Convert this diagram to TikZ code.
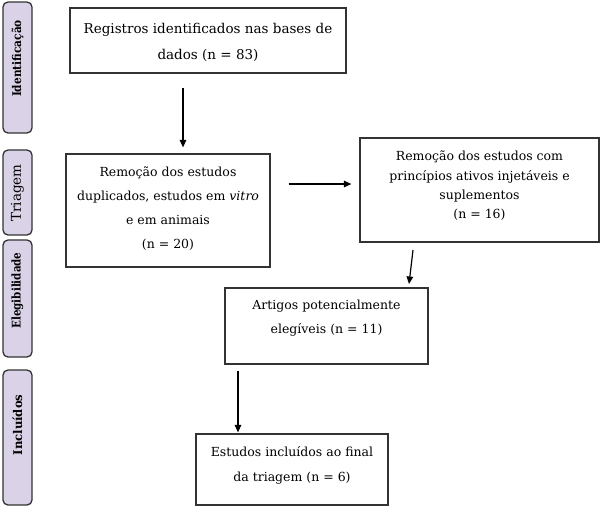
\documentclass[tikz,border=0pt]{standalone}
\usepackage{fontspec}
\usepackage{graphicx}
\setmainfont{DejaVu Serif}
\usetikzlibrary{arrows.meta,calc}
\definecolor{lav}{HTML}{DAD3E8}
\definecolor{edge}{HTML}{333333}
\newcommand{\stg}[2]{\scalebox{#1}[1]{#2}}
\begin{document}
\begin{tikzpicture}[x=1pt,y=-1pt,
  stage/.style={draw=edge,line width=1.3pt,fill=lav,rounded corners=5pt,inner sep=0pt},
  stagetxt/.style={rotate=90,font=\fontsize{12}{13}\selectfont\bfseries,inner sep=0pt},
  box/.style={draw=edge,line width=1.2pt,inner sep=0pt},
  txt/.style={align=center,inner sep=0pt},
  arr/.style={-{Triangle[length=7.5pt,width=6.5pt]},line width=1.2pt,black}]
\useasboundingbox (0,0) rectangle (600,507);
\fill[white] (0,0) rectangle (600,507);
% stages
\node[stage,minimum width=29pt,minimum height=131pt] (s1) at (17.5,67.5) {};
\node[stagetxt] (t1) at (17.5,58.5) {\stg{0.88}{Identificação}};
\node[stage,minimum width=29pt,minimum height=85pt] (s2) at (17.5,192.5) {};
\node[stagetxt,font=\fontsize{13.5}{14}\selectfont] (t2) at (17.5,193) {Triagem};
\node[stage,minimum width=29pt,minimum height=117pt] (s3) at (17.5,298.5) {};
\node[stagetxt] (t3) at (17.5,290.5) {\stg{0.86}{Elegibilidade}};
\node[stage,minimum width=29pt,minimum height=135pt] (s4) at (17.5,437.5) {};
\node[stagetxt] (t4) at (17.5,425) {\stg{0.97}{Incluídos}};
% boxes
\node[box,minimum width=276pt,minimum height=65pt] (b1) at (208,40.5) {};
\node[txt,font=\fontsize{13.5}{26}\selectfont] (x1) at (208,42) {Registros identificados nas bases de\\dados (n = 83)};
\node[box,minimum width=204pt,minimum height=113pt] (b2) at (168,210.5) {};
\node[txt,font=\fontsize{12.5}{24}\selectfont] (x2) at (168,209) {Remoção dos estudos\\duplicados, estudos em \textit{vitro}\\e em animais\\(n = 20)};
\node[box,minimum width=239pt,minimum height=104pt] (b3) at (479.5,190) {};
\node[txt,font=\fontsize{12.5}{19.3}\selectfont] (x3) at (479.5,186) {Remoção dos estudos com\\princípios ativos injetáveis e\\suplementos\\(n = 16)};
\node[box,minimum width=203pt,minimum height=76pt] (b4) at (326.5,326) {};
\node[txt,font=\fontsize{12.5}{24}\selectfont] (x4) at (326.5,318) {Artigos potencialmente\\elegíveis (n = 11)};
\node[box,minimum width=192pt,minimum height=71pt] (b5) at (292,469.5) {};
\node[txt,font=\fontsize{12.5}{25}\selectfont] (x5) at (292,465) {Estudos incluídos ao final\\da triagem (n = 6)};
% arrows
\coordinate (c1) at (183,0);
\coordinate (c2) at (0,184);
\coordinate (c3) at (238,0);
\coordinate (d1) at (413,250);
\coordinate (d2) at (409,284);
\draw[arr,shorten <=14pt,shorten >=6pt] (b1.south -| c1) -- (b2.north -| c1);
\draw[arr,shorten <=18pt,shorten >=8pt] (b2.east |- c2) -- (b3.west |- c2);
\draw[arr] (d1) -- (d2);
\draw[arr,shorten <=6pt,shorten >=1pt] (b4.south -| c3) -- (b5.north -| c3);
\end{tikzpicture}
\end{document}
